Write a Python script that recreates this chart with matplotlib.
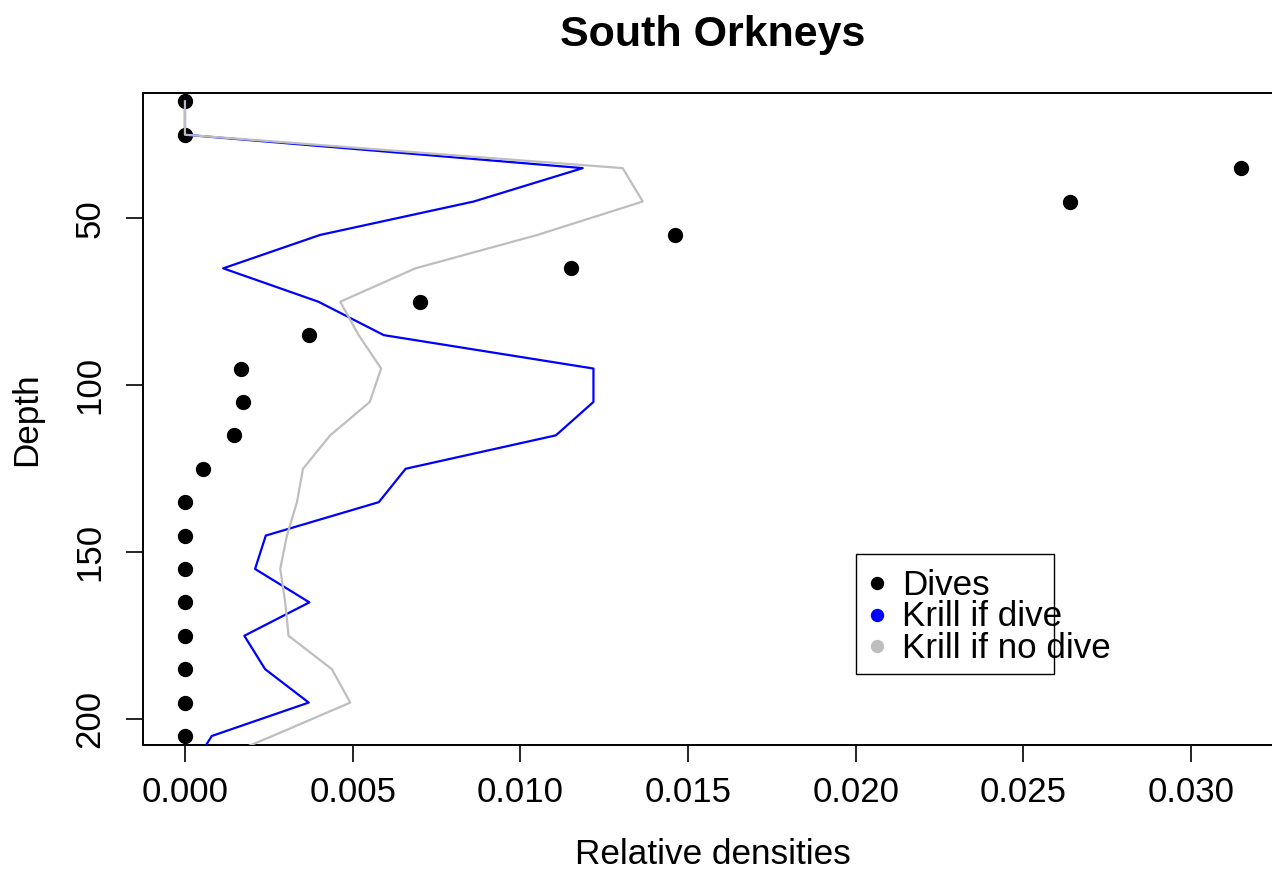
import matplotlib
matplotlib.use("Agg")
import matplotlib.pyplot as plt
from matplotlib.patches import Rectangle

plt.rcParams['font.family'] = ['Liberation Sans', 'DejaVu Sans']

# depth bins (m)
depth = [15, 25, 35, 45, 55, 65, 75, 85, 95, 105, 115, 125,
         135, 145, 155, 165, 175, 185, 195, 205]
depth_lines = depth + [215]

# relative density of dives per depth bin
dives = [0.0, 0.0, 0.0315, 0.0264, 0.0146, 0.0115, 0.0070, 0.0037,
         0.00166, 0.00174, 0.00146, 0.00055,
         0.0, 0.0, 0.0, 0.0, 0.0, 0.0, 0.0, 0.0]

# krill density where a dive happened / did not happen
krill_dive = [0.0, 0.0, 0.01186, 0.00861, 0.00403, 0.00114, 0.00398, 0.00593,
              0.01218, 0.01218, 0.01106, 0.00658, 0.00578, 0.00241, 0.00209,
              0.00371, 0.00177, 0.00239, 0.00369, 0.00080, 0.00017]
krill_nodive = [0.0, 0.0, 0.01305, 0.01365, 0.01051, 0.00687, 0.00463, 0.00518,
                0.00585, 0.00551, 0.00433, 0.00352, 0.00334, 0.00304, 0.00284,
                0.00299, 0.00309, 0.00438, 0.00493, 0.00261, 0.00024]

legend_labels = ['Dives', 'Krill if dive', 'Krill if no dive']
legend_colors = ['black', 'blue', '#BEBEBE']

W, H = 1272, 874
fig = plt.figure(figsize=(W / 100, H / 100), dpi=100)
ax = fig.add_axes([142.7 / W, 1 - 745 / H, (1283 - 142.7) / W, (745 - 93.3) / H])

ax.plot(dives, depth, 'o', color='black', ms=10, zorder=2)
ax.plot(krill_dive, depth_lines, color='blue', lw=1.6, zorder=3)
ax.plot(krill_nodive, depth_lines, color='#BEBEBE', lw=1.6, zorder=4)

ax.set_xlim(-0.00126, 0.03274)
ax.set_ylim(207.7, 12.6)

ax.set_xticks([0.0, 0.005, 0.010, 0.015, 0.020, 0.025, 0.030])
ax.set_xticklabels(['%.3f' % v for v in ax.get_xticks()])
ax.set_yticks([50, 100, 150, 200])
ax.tick_params(axis='both', direction='out', length=12, width=1.2,
               labelsize=25, colors='black')
ax.tick_params(axis='x', pad=10)
ax.tick_params(axis='y', pad=14)
for lab in ax.get_yticklabels():
    lab.set_rotation(90)
    lab.set_va('center')
for sp in ax.spines.values():
    sp.set_linewidth(1.4)

ax.set_title('South Orkneys', fontsize=31, fontweight='bold', pad=34)
ax.set_xlabel('Relative densities', fontsize=25.3)
ax.xaxis.set_label_coords(0.5, (745 - 855) / (745 - 93.3))
ax.xaxis.label.set_va('center')
ax.set_ylabel('Depth', fontsize=25.3)
ax.yaxis.set_label_coords((27 - 142.7) / (1283 - 142.7), 0.5)
ax.yaxis.label.set_va('center')

# legend drawn by hand so the box keeps its fixed size
fig.patches.append(Rectangle((855.7 / W, 1 - 674 / H), (1054.3 - 855.7) / W,
                             (674 - 553.7) / H, transform=fig.transFigure,
                             fill=False, edgecolor='black', lw=1.0))
rows = [583.3, 614.5, 645.5]
for lab, col, ry in zip(legend_labels, legend_colors, rows):
    fig.lines.append(plt.Line2D([876.7 / W], [1 - ry / H], marker='o', ms=8.6,
                                color=col, ls='none', transform=fig.transFigure))
    fig.text(901.7 / W, 1 - (ry + 12) / H, lab, fontsize=25.2, va='baseline')

fig.savefig('out.png', dpi=100)
